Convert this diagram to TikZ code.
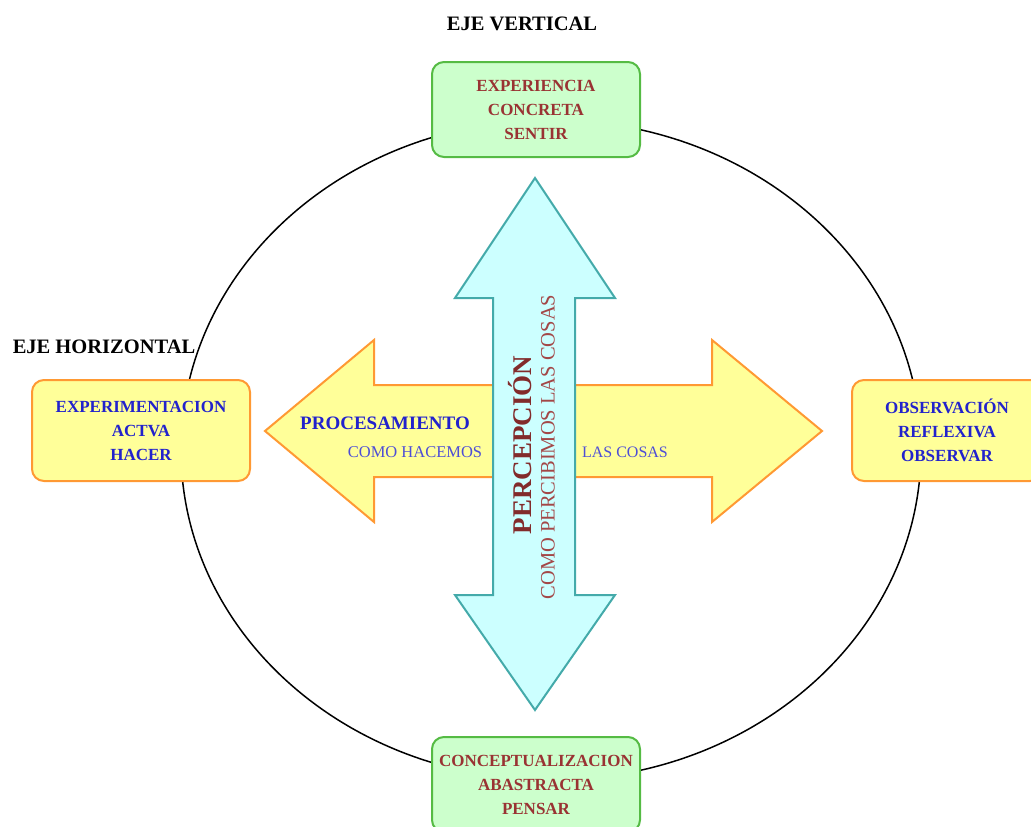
\documentclass[tikz,border=0pt]{standalone}
\usepackage{fontspec}
\setmainfont{Liberation Serif}
\definecolor{greenfill}{HTML}{CCFFCC}
\definecolor{greenline}{HTML}{55BB44}
\definecolor{yellowfill}{HTML}{FFFF99}
\definecolor{orangeline}{HTML}{FF9933}
\definecolor{cyanfill}{HTML}{CCFFFF}
\definecolor{tealline}{HTML}{44AAAA}
\definecolor{darkred}{HTML}{993333}
\definecolor{textblue}{HTML}{2222CC}
\begin{document}
\begin{tikzpicture}[x=1pt,y=-1pt]
  \tikzset{box/.style={draw, rounded corners=12pt, line width=2pt, align=center, inner sep=0pt, minimum height=95pt, font=\fontsize{17}{24}\selectfont\bfseries},
    greenbox/.style={box, fill=greenfill, draw=greenline, text=darkred, minimum width=208pt},
    yellowbox/.style={box, fill=yellowfill, draw=orangeline, text=textblue, minimum height=101pt},
    axis/.style={font=\fontsize{20.5}{20.5}\selectfont\bfseries, inner sep=0pt}}
  \useasboundingbox (0,0) rectangle (1031,827);
  \draw[line width=1.5pt] (551,450) ellipse [x radius=370, y radius=330];
  \node[greenbox] at (536,109.5) (box_top) {EXPERIENCIA\\CONCRETA\\SENTIR};
  \node[greenbox] at (536,784.5) (box_bottom) {CONCEPTUALIZACION\\ABASTRACTA\\PENSAR};
  \node[yellowbox, minimum width=218pt] at (141,430.5) (box_left) {EXPERIMENTACION\\ACTVA\\HACER};
  \node[yellowbox, minimum width=190pt] at (947,430.5) (box_right) {OBSERVACIÓN\\REFLEXIVA\\OBSERVAR};
  \node[axis] at (522,24) (eje_v) {EJE VERTICAL};
  \node[axis] at (104,347) (eje_h) {EJE HORIZONTAL};

  \draw[fill=yellowfill, draw=orangeline, line width=2pt, line join=miter]
    (265,431) -- (374,340) -- (374,385) -- (712,385) -- (712,340) -- (822,431)
    -- (712,522) -- (712,477) -- (374,477) -- (374,522) -- cycle;
  \draw[fill=cyanfill, draw=tealline, line width=2pt, line join=miter]
    (535,178) -- (615,298) -- (575,298) -- (575,595) -- (615,595) -- (535,710)
    -- (455,595) -- (493,595) -- (493,298) -- (455,298) -- cycle;

  \node[text=textblue, font=\fontsize{19}{19}\selectfont\bfseries] at (385,423) (proc) {PROCESAMIENTO};
  \node[text=textblue!80, font=\fontsize{16.5}{16.5}\selectfont] at (415,452) (proc_a) {COMO HACEMOS};
  \node[text=textblue!80, font=\fontsize{16}{16}\selectfont] at (625,452) (proc_b) {LAS COSAS};
  \node[rotate=90, text=darkred!85!black, font=\fontsize{27}{27}\selectfont\bfseries] at (520,445) (perc) {PERCEPCIÓN};
  \node[rotate=90, text=darkred!90, font=\fontsize{20.5}{20.5}\selectfont] at (548,447) (perc_a) {COMO PERCIBIMOS LAS COSAS};
\end{tikzpicture}
\end{document}
